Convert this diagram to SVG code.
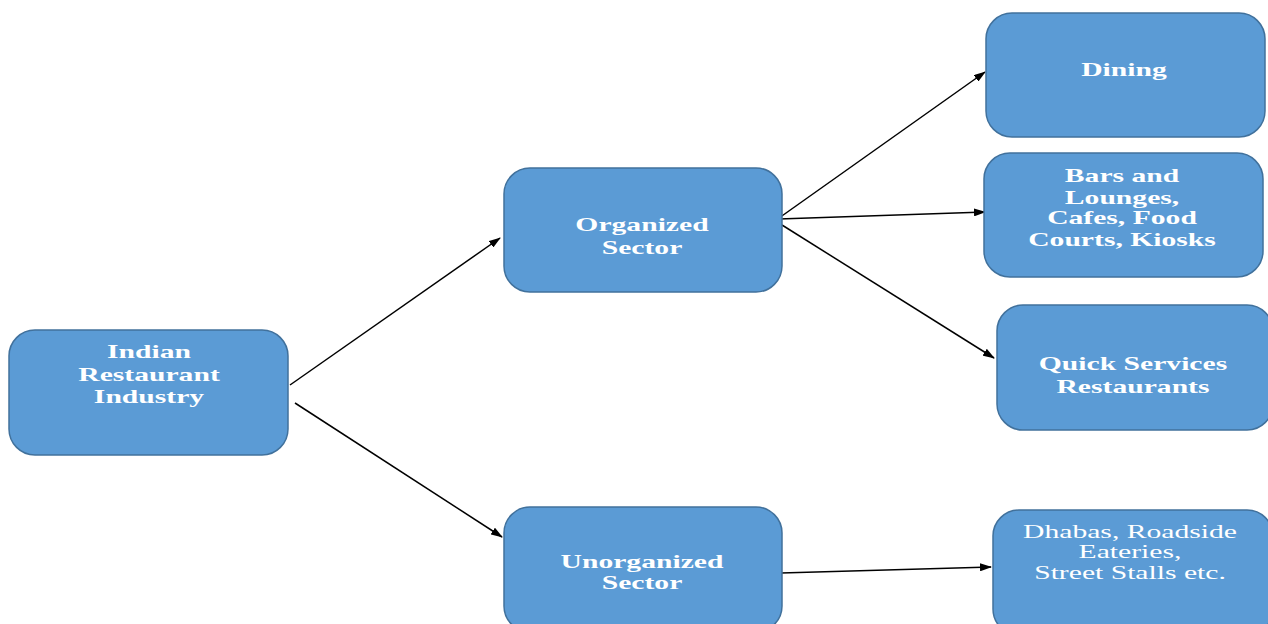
<svg xmlns="http://www.w3.org/2000/svg" width="1268" height="624" viewBox="0 0 1268 624">
<style>
.box{fill:#5B9BD5;stroke:#41719C;stroke-width:1.5}
.t{font-family:"Liberation Serif","Times New Roman",serif;font-size:19px;font-weight:bold;fill:#ffffff;text-anchor:middle}
.r{font-weight:normal}
.c{stroke:#000;stroke-width:1.5;fill:none;marker-end:url(#ah)}
</style>
<defs>
<marker id="ah" markerWidth="12" markerHeight="8" refX="11" refY="4" orient="auto" markerUnits="userSpaceOnUse">
<path d="M0,0 L12,4 L0,8 Z" fill="#000"/>
</marker>
</defs>
<rect width="1268" height="624" fill="#ffffff"/>
<g id="connectors">
<line class="c" x1="290" y1="385" x2="500" y2="238"/>
<line class="c" x1="295" y1="403" x2="502" y2="537"/>
<line class="c" x1="779" y1="218" x2="985" y2="72"/>
<line class="c" x1="779" y1="219" x2="985" y2="212"/>
<line class="c" x1="782" y1="225" x2="994" y2="358"/>
<line class="c" x1="781" y1="573" x2="991" y2="567"/>
</g>
<g id="indian">
<rect class="box" x="9" y="330" width="279" height="125" rx="26"/>
<text class="t" transform="translate(149 0) scale(1.56 1)"><tspan x="0" y="358">Indian</tspan><tspan x="0" y="381">Restaurant</tspan><tspan x="0" y="403">Industry</tspan></text>
</g>
<g id="organized">
<rect class="box" x="504" y="168" width="278" height="124" rx="26"/>
<text class="t" transform="translate(642 0) scale(1.56 1)"><tspan x="0" y="231">Organized</tspan><tspan x="0" y="254">Sector</tspan></text>
</g>
<g id="unorganized">
<rect class="box" x="504" y="507" width="278" height="125" rx="26"/>
<text class="t" transform="translate(642 0) scale(1.56 1)"><tspan x="0" y="568">Unorganized</tspan><tspan x="0" y="589">Sector</tspan></text>
</g>
<g id="dining">
<rect class="box" x="986" y="13" width="279" height="124" rx="26"/>
<text class="t" transform="translate(1124 0) scale(1.56 1)"><tspan x="0" y="76">Dining</tspan></text>
</g>
<g id="bars">
<rect class="box" x="984" y="153" width="279" height="124" rx="26"/>
<text class="t" transform="translate(1122 0) scale(1.56 1)"><tspan x="0" y="182">Bars and</tspan><tspan x="0" y="204">Lounges,</tspan><tspan x="0" y="224">Cafes, Food</tspan><tspan x="0" y="246">Courts, Kiosks</tspan></text>
</g>
<g id="quick">
<rect class="box" x="997" y="305" width="276" height="125" rx="26"/>
<text class="t" transform="translate(1133 0) scale(1.56 1)"><tspan x="0" y="370">Quick Services</tspan><tspan x="0" y="393">Restaurants</tspan></text>
</g>
<g id="dhabas">
<rect class="box" x="993" y="510" width="280" height="125" rx="26"/>
<text class="t r" transform="translate(1130 0) scale(1.56 1)"><tspan x="0" y="538">Dhabas, Roadside</tspan><tspan x="0" y="558">Eateries,</tspan><tspan x="0" y="579">Street Stalls etc.</tspan></text>
</g>
</svg>
